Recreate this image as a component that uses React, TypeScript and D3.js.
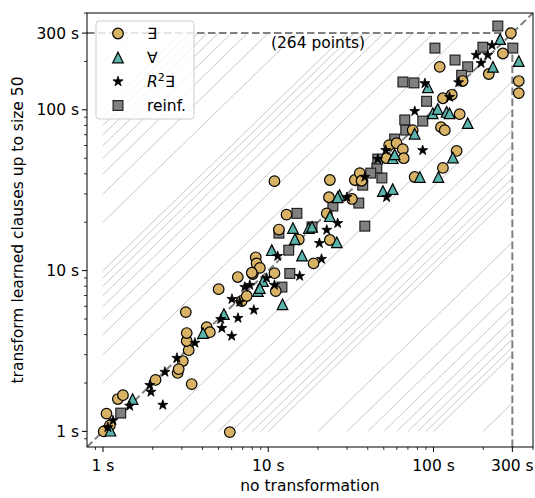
import React from "react";
import * as d3 from "d3";

type Pt = [number, number];

const EXISTS: Pt[] = [
  [1.01, 1.0], [1.05, 1.29], [1.1, 1.09], [1.23, 1.59], [1.32, 1.68], [2.08, 2.09], [2.83, 2.31],
  [3.04, 2.74], [3.44, 1.97], [3.3, 3.2], [3.21, 3.65], [3.21, 4.09], [3.17, 5.52], [4.24, 4.45],
  [4.43, 4.14], [5.85, 0.99], [5.01, 7.67], [6.54, 9.12], [8.06, 9.52], [6.91, 6.47], [7.41, 6.95],
  [10.9, 9.64], [11.1, 7.46], [8.4, 12.1], [8.5, 11.1], [8.9, 10.4], [7.95, 9.7], [10.9, 36],
  [12.9, 22.3], [11.6, 18], [15.3, 15.6], [18.8, 11.1], [23.6, 15.5], [22.6, 22.7], [23.3, 28.6],
  [32.1, 27.9], [23.6, 36.6], [33.4, 36.6], [35.8, 40.4], [36.7, 36.2], [53.9, 60.3], [59.8, 62],
  [65.2, 56.9], [66, 50], [52, 50], [74.8, 74.7], [76.9, 38.2], [114, 43.5], [138, 55.5], [111, 78],
  [117, 74.7], [144, 94], [114, 118], [129, 124], [150, 151], [109, 185], [216, 167], [263, 224],
  [294, 300], [328, 151], [328, 127], [2.87, 2.44],
];

const FORALL: Pt[] = [
  [1.11, 1.01], [1.51, 1.59], [4.03, 4.09], [5.39, 5.37], [8.65, 7.46], [9.29, 8.61], [12.2, 6.17],
  [10.5, 13.4], [8.89, 7.79], [14.1, 18.4], [14.5, 15.7], [16, 12.4], [17.6, 18.4], [18.4, 18.7],
  [26, 15], [27, 29.5], [23.6, 21.8], [26.3, 28.6], [49.4, 31.2], [56.6, 32.1], [56.6, 50],
  [58.2, 52.8], [76.9, 71], [82.6, 38.2], [107, 38.2], [131, 50.5], [92.5, 138], [98.9, 95],
  [106, 101], [120, 97], [125, 95], [161, 82.6], [229, 185], [253, 275], [328, 201],
];

const R2EXISTS: Pt[] = [
  [1.15, 1.17], [1.07, 1.06], [1.45, 1.44], [2.3, 1.46], [1.95, 1.76], [1.92, 1.94], [2.37, 2.34],
  [2.8, 2.86], [3.6, 3.55], [5.24, 4.39], [6.01, 3.92], [6.56, 5.07], [8.18, 5.69], [5.16, 4.99],
  [6.03, 6.65], [6.72, 6.37], [7.73, 8.13], [9.77, 8.98], [7.21, 7.9], [11.4, 12.3], [15.5, 9.25],
  [21, 11.8], [20.4, 14.8], [22.6, 17.9], [26.3, 19.7], [29.9, 28.6], [52, 28.6], [38.4, 38.2],
  [46, 49.4], [51.4, 56.1], [86, 56], [77, 98], [88.7, 146], [125, 120], [142, 148], [194, 195],
  [181, 219], [213, 219], [226, 252], [10.9, 8.13],
];

const REINF: Pt[] = [
  [1.28, 1.3], [14.9, 22.7], [11.6, 17.1], [13.3, 13.4], [13.5, 9.6], [12.1, 7.9], [18.4, 18.7],
  [24.6, 25.2], [35.3, 26.3], [38.4, 18.9], [37.3, 34], [48.7, 37.7], [45.4, 43.5], [46, 49.4],
  [58.2, 65.8], [67.9, 74.8], [67, 86.5], [86.1, 85.1], [90.8, 113], [65.3, 149], [76.2, 147],
  [102, 242], [135, 204], [161, 185], [148, 164], [199, 245], [245, 332], [302, 242], [41.7, 40.4],
];

const GUIDE_FACTORS = [2, 3, 4, 5, 6, 7, 8, 9, 10, 20, 30, 40, 50, 60, 70, 80, 90, 100, 200];
const MAJOR_TICKS = [1, 10, 100, 300];
const MAJOR_LABELS = ["1 s", "10 s", "100 s", "300 s"];
const MINOR_TICKS = [0.9, 2, 3, 4, 5, 6, 7, 8, 9, 20, 30, 40, 50, 60, 70, 80, 90, 200, 400];
const DOMAIN: [number, number] = [0.8, 400];
const TIMEOUT = 300;
const LOWER = 1;
const POINT_COUNT = 264;

const TAN = "#d8b365";
const TEAL = "#5ab4ac";
const GRAY = "#808080";
const FONT = "DejaVu Sans, sans-serif";

const L = 87, R = 533, T = 13, B = 447;

function starPath(r: number) {
  const pts: string[] = [];
  for (let i = 0; i < 10; i++) {
    const rad = i % 2 === 0 ? r : r * 0.381966;
    const a = -Math.PI / 2 + (i * Math.PI) / 5;
    pts.push(`${(rad * Math.cos(a)).toFixed(2)},${(rad * Math.sin(a)).toFixed(2)}`);
  }
  return "M" + pts.join("L") + "Z";
}

function Marker({ kind, x, y }: { kind: string; x: number; y: number }) {
  const sw = 1.2;
  if (kind === "circle")
    return <circle cx={x} cy={y} r={5.3} fill={TAN} stroke="#000" strokeWidth={sw} />;
  if (kind === "tri")
    return (
      <path transform={`translate(${x},${y})`} d="M0,-5.3L5.3,5.3L-5.3,5.3Z" fill={TEAL} stroke="#000" strokeWidth={sw} strokeLinejoin="miter" />
    );
  if (kind === "star")
    return <path transform={`translate(${x},${y})`} d={starPath(5.3)} fill="#000" stroke="#000" strokeWidth={0.8} />;
  return <rect x={x - 4.9} y={y - 4.9} width={9.8} height={9.8} fill={GRAY} stroke="#222" strokeWidth={sw} />;
}

export default function App() {
  const x = d3.scaleLog().domain(DOMAIN).range([L, R]);
  const y = d3.scaleLog().domain(DOMAIN).range([B, T]);

  const guides: { x1: number; y1: number; x2: number; y2: number }[] = [];
  GUIDE_FACTORS.forEach((c) => {
    guides.push({ x1: x(c * LOWER), y1: y(LOWER), x2: x(TIMEOUT), y2: y(TIMEOUT / c) });
    guides.push({ x1: x(LOWER), y1: y(c * LOWER), x2: x(TIMEOUT / c), y2: y(TIMEOUT) });
  });

  const series: { kind: string; data: Pt[] }[] = [
    { kind: "square", data: REINF },
    { kind: "circle", data: EXISTS },
    { kind: "tri", data: FORALL },
    { kind: "star", data: R2EXISTS },
  ];

  const dash = "7.5,3.5";
  const legendRows = [
    { kind: "circle", label: "∃" },
    { kind: "tri", label: "∀" },
    { kind: "star", label: "R2∃" },
    { kind: "square", label: "reinf." },
  ];

  return (
    <div style={{ position: "absolute", left: 0, top: 0 }}>
      <svg width={535} height={498} style={{ display: "block", background: "#fff" }} fontFamily={FONT}>
        <defs>
          <clipPath id="plotclip">
            <rect x={L} y={T} width={R - L} height={B - T} />
          </clipPath>
        </defs>
        <rect x={0} y={0} width={535} height={498} fill="#fff" />
        <g clipPath="url(#plotclip)">
          {guides.map((g, i) => (
            <line key={i} x1={g.x1} y1={g.y1} x2={g.x2} y2={g.y2} stroke="#c8c8c8" strokeWidth={1} />
          ))}
          <line x1={x(DOMAIN[0])} y1={y(DOMAIN[0])} x2={x(DOMAIN[1])} y2={y(DOMAIN[1])} stroke={GRAY} strokeWidth={2} strokeDasharray={dash} />
          <line x1={x(DOMAIN[0])} y1={y(TIMEOUT)} x2={x(TIMEOUT)} y2={y(TIMEOUT)} stroke={GRAY} strokeWidth={2} strokeDasharray={dash} />
          <line x1={x(TIMEOUT)} y1={y(DOMAIN[0])} x2={x(TIMEOUT)} y2={y(TIMEOUT)} stroke={GRAY} strokeWidth={2} strokeDasharray={dash} />
          {series.map((s) =>
            s.data.map((d, i) => <Marker key={s.kind + i} kind={s.kind} x={x(d[0])} y={y(d[1])} />)
          )}
        </g>
        <text x={318} y={48} fontSize={15.5} textAnchor="middle" fill="#000">
          ({POINT_COUNT} points)
        </text>
        <g>
          <rect x={96} y={21} width={98} height={98} rx={3} fill="#fff" fillOpacity={0.8} stroke="#cccccc" strokeWidth={1} />
          {legendRows.map((r, i) => {
            const cy = 33.5 + i * 24;
            return (
              <g key={r.kind}>
                <Marker kind={r.kind} x={118} y={cy} />
                {r.kind === "star" ? (
                  <text x={147} y={cy + 5.5} fontSize={15.5} fill="#000">
                    <tspan fontStyle="italic">R</tspan>
                    <tspan dy={-6} fontSize={11}>2</tspan>
                    <tspan dy={6}>∃</tspan>
                  </text>
                ) : (
                  <text x={147} y={cy + 5.5} fontSize={15.5} fill="#000">
                    {r.label}
                  </text>
                )}
              </g>
            );
          })}
        </g>
        <rect x={L} y={T} width={R - L} height={B - T} fill="none" stroke="#000" strokeWidth={1} />
        {MAJOR_TICKS.map((t, i) => (
          <g key={"xm" + t}>
            <line x1={x(t)} x2={x(t)} y1={B} y2={B + 5} stroke="#000" strokeWidth={1} />
            <text x={x(t)} y={B + 24} fontSize={15.5} textAnchor="middle" fill="#000">
              {MAJOR_LABELS[i]}
            </text>
            <line x1={L} x2={L - 5} y1={y(t)} y2={y(t)} stroke="#000" strokeWidth={1} />
            <text x={L - 8} y={y(t) + 5.5} fontSize={15.5} textAnchor="end" fill="#000">
              {MAJOR_LABELS[i]}
            </text>
          </g>
        ))}
        {MINOR_TICKS.map((t) => (
          <g key={"xn" + t}>
            <line x1={x(t)} x2={x(t)} y1={B} y2={B + 3} stroke="#000" strokeWidth={0.8} />
            <line x1={L} x2={L - 3} y1={y(t)} y2={y(t)} stroke="#000" strokeWidth={0.8} />
          </g>
        ))}
        <text x={(L + R) / 2} y={491} fontSize={15.5} textAnchor="middle" fill="#000">
          no transformation
        </text>
        <text transform={`translate(23,${(T + B) / 2}) rotate(-90)`} fontSize={15.5} textAnchor="middle" fill="#000">
          transform learned clauses up to size 50
        </text>
      </svg>
    </div>
  );
}
